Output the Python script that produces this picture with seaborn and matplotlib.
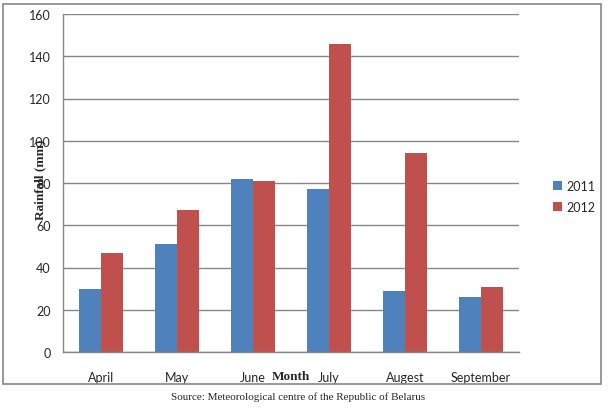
import pandas as pd
import numpy as np
import matplotlib
matplotlib.use("Agg")
import matplotlib.pyplot as plt
import seaborn as sns
from matplotlib.patches import Rectangle, Patch

# 数据
months = ['April', 'May', 'June', 'July', 'Augest', 'September']
years = ['2011', '2012']
rain_2011 = [30, 51, 82, 77, 29, 26]
rain_2012 = [47, 67, 81, 146, 94, 31]
y_ticks = [0, 20, 40, 60, 80, 100, 120, 140, 160]

colors = ['#4F81BD', '#C0504D']
grid_color = '#868686'

data = pd.DataFrame({
    'Month': months * 2,
    'Year': [years[0]] * len(months) + [years[1]] * len(months),
    'Rainfall': rain_2011 + rain_2012,
})

sns.set_style('white')
plt.rcParams['font.family'] = ['Lato', 'DejaVu Sans']

fig = plt.figure(figsize=(6.09, 4.10), dpi=100)
ax = fig.add_axes([63 / 609, 57 / 410, 456 / 609, 338 / 410])

sns.barplot(data=data, x='Month', y='Rainfall', hue='Year', order=months,
            hue_order=years, palette=colors, width=0.58, saturation=1,
            linewidth=0, edgecolor='none', ax=ax, legend=False)

ax.set_ylim(0, 160)
ax.set_xlim(-0.5, len(months) - 0.5)
ax.set_yticks(y_ticks)
ax.set_yticklabels([str(v) for v in y_ticks], fontsize=9)
ax.set_xticks(range(len(months)))
ax.set_xticklabels(months, fontsize=9)
ax.set_xticks(np.arange(-0.5, len(months)), minor=True)
ax.tick_params(axis='x', which='major', length=0, pad=14)
ax.tick_params(axis='x', which='minor', length=5, color=grid_color, width=1)
ax.tick_params(axis='y', length=5, color=grid_color, width=1, pad=4, direction='out')
ax.yaxis.grid(True, color=grid_color, linewidth=1)
ax.set_axisbelow(True)

for side in ['top', 'right']:
    ax.spines[side].set_visible(False)
for side in ['left', 'bottom']:
    ax.spines[side].set_color(grid_color)
    ax.spines[side].set_linewidth(1)

ax.set_xlabel('')
ax.set_ylabel('')
# 轴标题（与刻度标签重叠，与原图一致）
ax.text((291 - 63) / 456, (353 - 377) / 338, 'Month', transform=ax.transAxes,
        ha='center', va='center', fontsize=9.5, fontweight='bold',
        family='Liberation Serif')
ax.text((40 - 63) / 456, (353 - 180) / 338, 'Rainfall (mm)', transform=ax.transAxes,
        ha='center', va='center', rotation=90, fontsize=9.5, fontweight='bold',
        family='Liberation Serif')

handles = [Patch(facecolor=c, edgecolor='none') for c in colors]
ax.legend(handles, years, loc='center left', bbox_to_anchor=(1.05, 0.46),
          frameon=False, fontsize=9, handlelength=0.7, handleheight=0.7,
          handletextpad=0.4, labelspacing=0.75)

# 外框
fig.patches.append(Rectangle((3 / 609, 25 / 410), 598 / 609, 380 / 410,
                             transform=fig.transFigure, fill=False,
                             edgecolor=grid_color, linewidth=1.2))

fig.text(0.49, 13 / 410, 'Source: Meteorological centre of the Republic of Belarus',
         ha='center', va='center', fontsize=8, family='Liberation Serif')

fig.savefig('out.png', dpi=100)
